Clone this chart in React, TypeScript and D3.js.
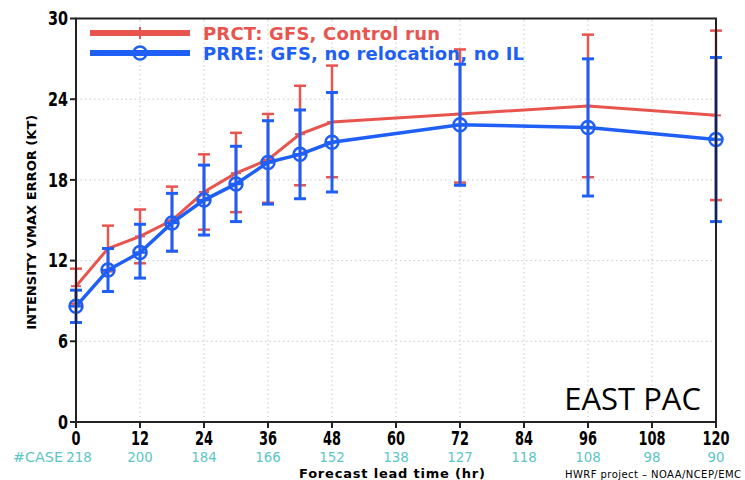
import React from "react";
import * as d3 from "d3";

const width = 745;
const height = 480;
const margin = { top: 18.5, right: 29, bottom: 58, left: 76 };

// forecast lead times (hr) and the two experiments' mean errors with spread
const hours = [0, 6, 12, 18, 24, 30, 36, 42, 48, 72, 96, 120];
const prct = [10.1, 12.9, 13.8, 15.0, 17.1, 18.5, 19.5, 21.4, 22.3, 22.9, 23.5, 22.8];
const prctHi = [11.4, 14.6, 15.8, 17.5, 19.9, 21.5, 22.9, 25.0, 26.5, 27.7, 28.8, 29.1];
const prctLo = [8.8, 11.2, 11.8, 12.7, 14.3, 15.6, 16.3, 17.6, 18.2, 17.8, 18.2, 16.5];
const prre = [8.6, 11.3, 12.6, 14.8, 16.5, 17.7, 19.3, 19.9, 20.8, 22.1, 21.9, 21.0];
const prreHi = [9.8, 12.9, 14.7, 17.0, 19.1, 20.5, 22.4, 23.2, 24.5, 26.6, 27.0, 27.1];
const prreLo = [7.4, 9.7, 10.7, 12.7, 13.9, 14.9, 16.2, 16.6, 17.1, 17.6, 16.8, 14.9];

const xTicks = [0, 12, 24, 36, 48, 60, 72, 84, 96, 108, 120];
const yTicks = [0, 6, 12, 18, 24, 30];
const caseCounts = [218, 200, 184, 166, 152, 138, 127, 118, 108, 98, 90];

const RED = "#e8554f";
const BLUE = "#1f5ff5";
const TEAL = "#5cc6c6";
const sans = "'DejaVu Sans', sans-serif";

// squeeze DejaVu to look like the narrow GrADS digits
const narrowLen = (s: string, per: number) => ({
  textLength: s.length * per,
  lengthAdjust: "spacingAndGlyphs" as const
});

export default function App() {
  const x = d3.scaleLinear().domain([0, 120]).range([margin.left, width - margin.right]);
  const y = d3.scaleLinear().domain([0, 30]).range([height - margin.bottom, margin.top]);
  const line = d3
    .line<number>()
    .x((_, i) => x(hours[i]))
    .y(d => y(d));

  const errBars = (lo: number[], hi: number[], color: string, w: number) =>
    hours.map((h, i) => (
      <g key={h} stroke={color} strokeWidth={w}>
        <line x1={x(h)} x2={x(h)} y1={y(lo[i])} y2={y(hi[i])} />
        <line x1={x(h) - 6} x2={x(h) + 6} y1={y(lo[i])} y2={y(lo[i])} />
        <line x1={x(h) - 6} x2={x(h) + 6} y1={y(hi[i])} y2={y(hi[i])} />
      </g>
    ));

  const [x0, x1] = x.range();
  const [y0, y1] = y.range();

  return (
    <svg width={width} height={height} style={{ position: "absolute", left: 0, top: 0, background: "#fff" }}>
      {/* dotted grid */}
      <g stroke="#c8c8c8" strokeWidth={1} strokeDasharray="1.5,3">
        {xTicks.slice(1, -1).map(t => (
          <line key={t} x1={x(t)} x2={x(t)} y1={y0} y2={y1} />
        ))}
        {yTicks.slice(1, -1).map(t => (
          <line key={t} x1={x0} x2={x1} y1={y(t)} y2={y(t)} />
        ))}
      </g>

      {/* red: control run */}
      {errBars(prctLo, prctHi, RED, 2.5)}
      <path d={line(prct) || ""} fill="none" stroke={RED} strokeWidth={3} />
      {hours.map((h, i) => (
        <line key={h} x1={x(h) - 5} x2={x(h) + 5} y1={y(prct[i])} y2={y(prct[i])} stroke={RED} strokeWidth={2} />
      ))}

      {/* blue: no relocation */}
      {errBars(prreLo, prreHi, BLUE, 3)}
      <path d={line(prre) || ""} fill="none" stroke={BLUE} strokeWidth={3.5} />
      {hours.map((h, i) => (
        <g key={h} stroke={BLUE} strokeWidth={2.5} fill="none">
          <circle cx={x(h)} cy={y(prre[i])} r={6.5} />
          <line x1={x(h) - 6} x2={x(h) + 6} y1={y(prre[i])} y2={y(prre[i])} />
        </g>
      ))}

      {/* frame */}
      <rect x={x0} y={y1} width={x1 - x0} height={y0 - y1} fill="none" stroke="#222" strokeWidth={2} />

      {/* y axis */}
      {yTicks.map(t => (
        <g key={t}>
          <line x1={x0 - 6} x2={x0} y1={y(t)} y2={y(t)} stroke="#222" strokeWidth={2} />
          <text
            x={x0 - 8}
            y={y(t)}
            dy="0.36em"
            textAnchor="end"
            fontFamily={sans}
            fontWeight="bold"
            fontSize={19}
            {...narrowLen(String(t), 10)}
          >
            {t}
          </text>
        </g>
      ))}
      <text
        transform={`translate(36,${(y0 + y1) / 2 + 2}) rotate(-90)`}
        textAnchor="middle"
        fontFamily={sans}
        fontWeight="bold"
        fontSize={12.5}
        textLength={215}
        lengthAdjust="spacingAndGlyphs"
      >
        INTENSITY VMAX ERROR (KT)
      </text>

      {/* x axis */}
      {xTicks.map((t, i) => (
        <g key={t}>
          <line x1={x(t)} x2={x(t)} y1={y0} y2={y0 + 6} stroke="#222" strokeWidth={2} />
          <text x={x(t)} y={445} textAnchor="middle" fontFamily={sans} fontWeight="bold" fontSize={19} {...narrowLen(String(t), 9)}>
            {t}
          </text>
          <text
            x={i === 0 ? x(t) + 3 : x(t)}
            y={462}
            textAnchor="middle"
            fontFamily={sans}
            fontSize={14}
            fill={TEAL}
            {...narrowLen(String(caseCounts[i]), 8.5)}
          >
            {caseCounts[i]}
          </text>
        </g>
      ))}
      <text x={63} y={462} textAnchor="end" fontFamily={sans} fontSize={14} fill={TEAL} textLength={50} lengthAdjust="spacingAndGlyphs">
        #CASE
      </text>
      <text x={392} y={478} textAnchor="middle" fontFamily={sans} fontWeight="bold" fontSize={13} textLength={186}>
        Forecast lead time (hr)
      </text>
      <text x={565} y={478} fontFamily={sans} fontSize={10} textLength={176}>
        HWRF project – NOAA/NCEP/EMC
      </text>

      {/* legend */}
      <g>
        <line x1={90} x2={190} y1={33} y2={33} stroke={RED} strokeWidth={6} />
        <line x1={140} x2={140} y1={27} y2={39} stroke={RED} strokeWidth={2} />
        <text x={203} y={40} fill={RED} fontFamily={sans} fontWeight="bold" fontSize={18} textLength={237}>
          PRCT: GFS, Control run
        </text>
        <line x1={90} x2={190} y1={53} y2={53} stroke={BLUE} strokeWidth={6} />
        <circle cx={140} cy={53} r={6.5} fill="none" stroke={BLUE} strokeWidth={2.5} />
        <text x={203} y={60} fill={BLUE} fontFamily={sans} fontWeight="bold" fontSize={18} textLength={321}>
          PRRE: GFS, no relocation, no IL
        </text>
      </g>

      <text x={701} y={410} textAnchor="end" fontFamily="'Open Sans', sans-serif" fontSize={31}>
        EAST PAC
      </text>
    </svg>
  );
}
